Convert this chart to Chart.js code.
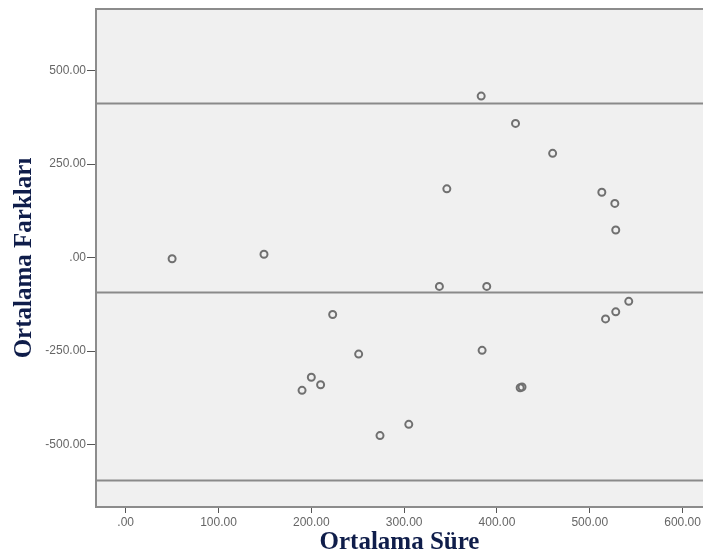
<!DOCTYPE html>
<html>
<head>
<meta charset="utf-8">
<script src="https://cdn.jsdelivr.net/npm/chart.js@4/dist/chart.umd.min.js"></script>
<style>
    html, body { margin: 0; padding: 0; background: #fff; overflow: hidden; }
    canvas { display: block; }
</style>
</head>
<body>
<canvas id="myChart" width="703" height="558"></canvas>
<script>
// Ortalama Süre (x) vs Ortalama Farkları (y)
const meanTimes = [50, 149, 383, 420, 460, 346, 513, 527, 528, 338, 389, 542, 528, 517,
    251, 384, 425, 427, 274, 305, 223, 200, 210, 190];
const meanDiffs = [-3, 9, 432, 359, 279, 184, 175, 145, 74, -77, -77, -117, -145, -164,
    -258, -248, -348, -346, -476, -446, -152, -320, -340, -355];

// reference lines: mean difference and limits of agreement
const meanLine = -93;
const upperLimit = 412;
const lowerLimit = -596;

const xTicks = [0, 100, 200, 300, 400, 500, 600];
const yTicks = [-500, -250, 0, 250, 500];
const xRange = [-32, 622];
const yRange = [-667, 665];

function fmt(v) {
    return v === 0 ? '.00' : v.toFixed(2);
}

const points = meanTimes.map((x, i) => ({ x: x, y: meanDiffs[i] }));
function hLine(v) {
    return [{ x: xRange[0], y: v }, { x: xRange[1], y: v }];
}

const plotBg = {
    id: 'plotBg',
    beforeDraw(chart) {
        const a = chart.chartArea;
        const ctx = chart.ctx;
        ctx.save();
        ctx.fillStyle = '#f0f0f0';
        ctx.fillRect(a.left, a.top, a.right - a.left, a.bottom - a.top);
        ctx.strokeStyle = '#8c8c8c';
        ctx.lineWidth = 2;
        ctx.beginPath();
        ctx.moveTo(a.left, a.top);
        ctx.lineTo(a.right, a.top);
        ctx.stroke();
        ctx.restore();
    }
};

const lineStyle = {
    type: 'line',
    showLine: true,
    borderColor: '#8a8a8a',
    borderWidth: 2,
    pointRadius: 0,
    fill: false
};

const titleFont = { family: '"Liberation Serif", serif', size: 25, weight: 'bold' };
const tickFont = { family: '"Liberation Sans", Arial, sans-serif', size: 12 };

new Chart(document.getElementById('myChart'), {
    type: 'scatter',
    data: {
        datasets: [
            Object.assign({ data: hLine(upperLimit) }, lineStyle),
            Object.assign({ data: hLine(meanLine) }, lineStyle),
            Object.assign({ data: hLine(lowerLimit) }, lineStyle),
            {
                data: points,
                pointRadius: 3.5,
                pointHoverRadius: 3.5,
                borderWidth: 2,
                borderColor: '#707070',
                backgroundColor: 'rgba(0,0,0,0)'
            }
        ]
    },
    options: {
        responsive: false,
        animation: false,
        events: [],
        layout: { autoPadding: false, padding: { top: 9, right: 0, left: 0, bottom: 0 } },
        plugins: {
            legend: { display: false },
            tooltip: { enabled: false }
        },
        scales: {
            x: {
                type: 'linear',
                min: xRange[0],
                max: xRange[1],
                afterBuildTicks: axis => { axis.ticks = xTicks.map(v => ({ value: v })); },
                afterFit: axis => { axis.height = 51; axis.paddingRight = 0; axis.paddingLeft = 0; },
                border: { display: true, color: '#8c8c8c', width: 2 },
                grid: { drawOnChartArea: false, drawTicks: true, tickLength: 6, tickColor: '#555', tickWidth: 1 },
                ticks: { color: '#666', font: tickFont, padding: 2, maxRotation: 0, callback: v => fmt(v) },
                title: { display: true, text: 'Ortalama Süre', color: '#0f1d4a', font: titleFont, padding: { top: 0, bottom: 0 } }
            },
            y: {
                type: 'linear',
                min: yRange[0],
                max: yRange[1],
                afterBuildTicks: axis => { axis.ticks = yTicks.map(v => ({ value: v })); },
                afterFit: axis => { axis.width = 96; axis.paddingTop = 0; axis.paddingBottom = 0; },
                border: { display: true, color: '#8c8c8c', width: 2 },
                grid: { drawOnChartArea: false, drawTicks: true, tickLength: 9, tickColor: '#555', tickWidth: 1 },
                ticks: { color: '#666', font: tickFont, padding: 1, callback: v => fmt(v) },
                title: { display: true, text: 'Ortalama Farkları', color: '#0f1d4a', font: titleFont, padding: { top: 10, bottom: 4 } }
            }
        }
    },
    plugins: [plotBg]
});
</script>
</body>
</html>
